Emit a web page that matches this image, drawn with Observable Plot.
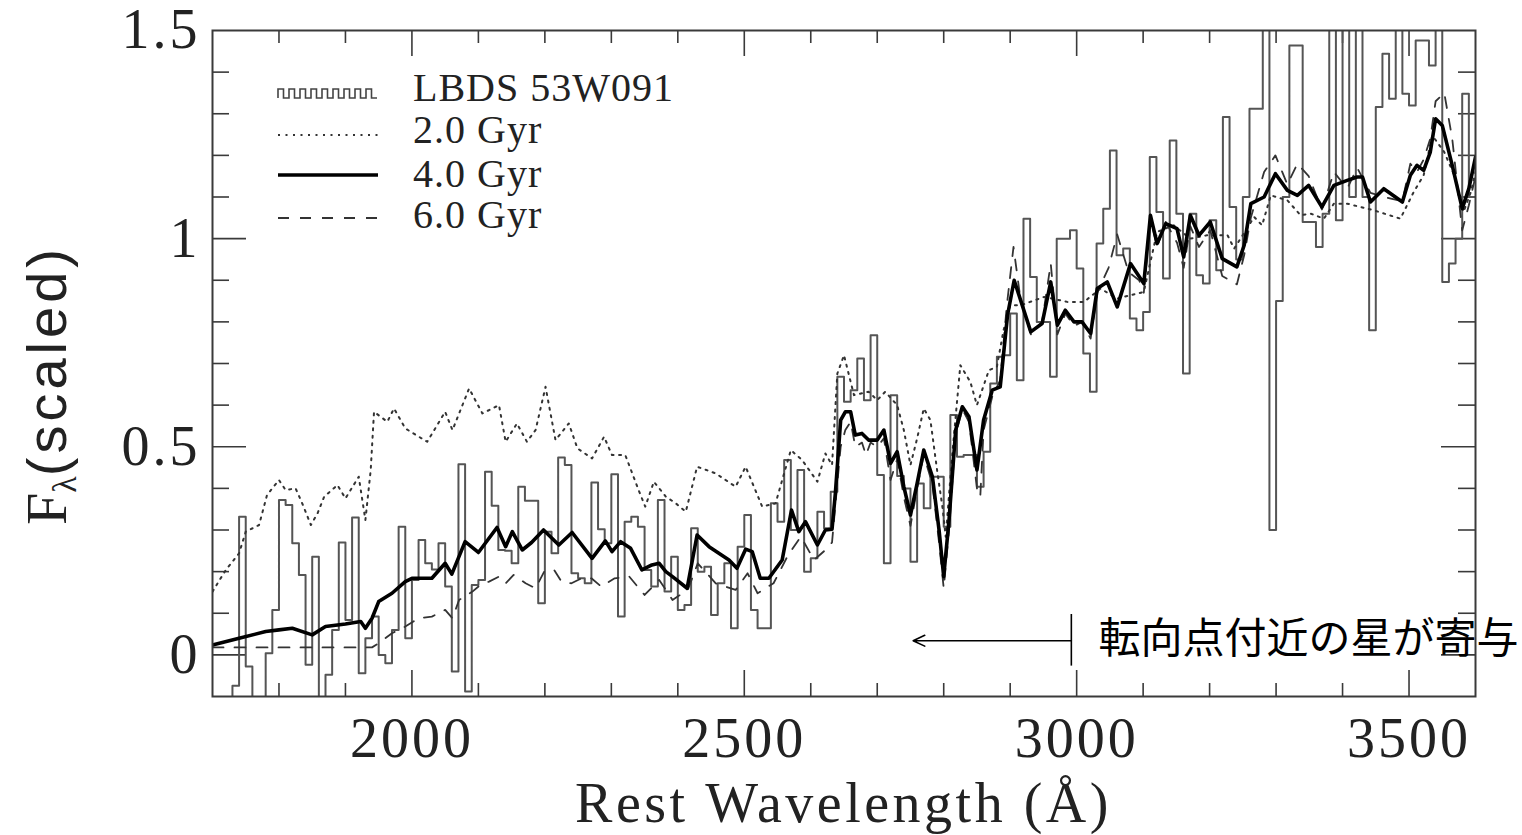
<!DOCTYPE html>
<html>
<head>
<meta charset="utf-8">
<script src="https://cdn.jsdelivr.net/npm/d3@7"></script>
<script src="https://cdn.jsdelivr.net/npm/@observablehq/plot@0.6"></script>
<style>
  html, body { margin: 0; padding: 0; background: #fff; }
  #chart { width: 1522px; height: 835px; }
  g[aria-label="x-axis tick label"] text { letter-spacing: 3px; }
  g[aria-label="y-axis tick label"] text { letter-spacing: 3px; }
</style>
</head>
<body>
<div id="chart"></div>
<script>
// ---------- data ----------
// observed spectrum LBDS 53W091: 10 Å bins starting at 1700 Å
const obsBinStart = 1700;
const obsBinWidth = 10;
const obsFlux = [
  -0.15, -0.15, -0.15, -0.074, 0.332, -0.028, -0.15, -0.15, 0.004, 0.108,
  0.372, 0.36, 0.268, 0.192, -0.024, 0.236, -0.15, -0.048, 0.06, 0.27,
  0.084, 0.33, -0.044, 0.04, 0.092, 0.0, -0.02, 0.06, 0.308, 0.04,
  0.18, 0.276, 0.22, 0.205, 0.268, 0.164, -0.04, 0.458, -0.088, 0.168,
  0.18, 0.44, 0.358, 0.252, 0.25, 0.22, 0.404, 0.37, 0.37, 0.124,
  0.296, 0.244, 0.474, 0.456, 0.196, 0.184, 0.172, 0.414, 0.302, 0.268,
  0.434, 0.092, 0.32, 0.332, 0.308, 0.204, 0.164, 0.372, 0.152, 0.236,
  0.108, 0.12, 0.304, 0.2, 0.212, 0.096, 0.172, 0.22, 0.064, 0.26,
  0.336, 0.108, 0.064, 0.064, 0.364, 0.32, 0.468, 0.3, 0.444, 0.2,
  0.232, 0.344, 0.304, 0.392, 0.668, 0.608, 0.636, 0.712, 0.612, 0.768,
  0.432, 0.22, 0.624, 0.43, 0.4, 0.224, 0.412, 0.352, 0.428, 0.428,
  0.308, 0.576, 0.476, 0.48, 0.48, 0.404, 0.488, 0.652, 0.716, 0.72,
  0.82, 0.66, 1.048, 0.908, 0.8, 0.8, 0.668, 1.0, 1.0, 1.02,
  0.928, 0.724, 0.632, 0.988, 1.072, 1.212, 0.96, 0.976, 0.808, 0.78,
  0.824, 1.196, 1.064, 0.904, 1.236, 1.06, 0.676, 1.06, 0.912, 0.892,
  1.044, 0.924, 1.292, 1.076, 0.95, 1.1, 1.312, 1.312, 1.6, 0.3,
  0.85, 1.1, 1.464, 1.464, 1.04, 1.04, 0.98, 1.06, 1.6, 1.044,
  1.6, 1.1, 1.6, 1.1, 0.78, 1.316, 1.444, 1.336, 1.6, 1.348,
  1.32, 1.476, 1.476, 1.416, 1.6, 0.896, 0.94, 1.0, 1.348, 1.1
];

// 2.0 Gyr model
const gyr2Wave = [1700,1720,1740,1750,1770,1782,1800,1810,1825,1835,1848,1858,1868,1888,1900,1920,1930,1938,1943,1963,1973,1990,2023,2050,2061,2086,2106,2131,2141,2158,2173,2186,2201,2216,2236,2249,2271,2289,2301,2321,2341,2351,2364,2382,2397,2412,2429,2457,2487,2502,2527,2547,2570,2587,2610,2622,2632,2640,2650,2665,2687,2700,2712,2730,2740,2750,2760,2770,2780,2790,2798,2803,2813,2825,2840,2850,2868,2880,2890,2900,2916,2951,2986,3011,3036,3061,3101,3121,3146,3171,3196,3227,3237,3267,3279,3292,3317,3337,3352,3372,3387,3407,3447,3487,3507,3522,3535,3553,3568,3582,3593,3600];
const gyr2Flux = [0.152,0.204,0.244,0.296,0.312,0.384,0.42,0.396,0.4,0.364,0.312,0.34,0.38,0.408,0.376,0.428,0.324,0.444,0.584,0.56,0.592,0.544,0.512,0.584,0.54,0.64,0.58,0.6,0.512,0.556,0.512,0.54,0.644,0.516,0.556,0.496,0.472,0.524,0.48,0.48,0.396,0.356,0.416,0.38,0.364,0.344,0.452,0.436,0.404,0.452,0.356,0.364,0.492,0.468,0.416,0.484,0.456,0.676,0.72,0.624,0.632,0.612,0.632,0.6,0.54,0.456,0.52,0.592,0.564,0.444,0.356,0.284,0.484,0.696,0.656,0.6,0.684,0.692,0.78,0.84,0.84,0.86,0.848,0.848,0.88,0.856,0.872,1.016,1.032,1.0,1.008,1.008,0.976,1.052,1.032,1.104,1.092,1.056,1.06,1.048,1.084,1.084,1.068,1.048,1.112,1.152,1.248,1.208,1.152,1.064,1.112,1.16];

// 4.0 Gyr model
const gyr4Wave = [1700,1740,1780,1800,1820,1850,1870,1900,1923,1930,1940,1950,1970,1990,2000,2030,2050,2060,2080,2100,2128,2141,2151,2166,2180,2198,2221,2241,2271,2291,2301,2314,2329,2346,2361,2372,2382,2392,2414,2429,2447,2477,2489,2502,2512,2524,2537,2557,2571,2582,2592,2610,2622,2632,2637,2645,2652,2660,2667,2677,2687,2700,2710,2720,2730,2740,2750,2760,2770,2783,2793,2800,2808,2818,2828,2838,2850,2860,2873,2885,2896,2906,2931,2948,2961,2971,2983,2996,3008,3021,3031,3046,3061,3081,3101,3111,3121,3134,3151,3161,3171,3184,3201,3219,3241,3252,3262,3282,3299,3317,3332,3349,3369,3387,3407,3422,3430,3442,3462,3490,3502,3512,3522,3532,3540,3550,3565,3580,3590,3600];
const gyr4Flux = [0.024,0.04,0.056,0.06,0.064,0.048,0.068,0.074,0.08,0.064,0.088,0.128,0.148,0.176,0.184,0.184,0.22,0.194,0.272,0.246,0.306,0.26,0.296,0.252,0.27,0.3,0.264,0.294,0.232,0.274,0.248,0.272,0.256,0.204,0.216,0.22,0.2,0.188,0.16,0.288,0.26,0.228,0.208,0.254,0.248,0.184,0.184,0.228,0.348,0.296,0.32,0.264,0.3,0.302,0.388,0.564,0.584,0.584,0.528,0.532,0.516,0.516,0.54,0.46,0.488,0.404,0.336,0.412,0.492,0.428,0.3,0.188,0.324,0.54,0.596,0.572,0.444,0.564,0.636,0.644,0.816,0.9,0.776,0.796,0.896,0.792,0.828,0.8,0.8,0.772,0.88,0.896,0.836,0.94,0.892,1.056,0.988,1.036,1.024,0.956,1.056,1.008,1.04,0.952,0.932,0.984,1.084,1.1,1.156,1.116,1.104,1.128,1.076,1.128,1.14,1.148,1.148,1.088,1.12,1.088,1.152,1.176,1.164,1.208,1.288,1.272,1.176,1.072,1.12,1.196];

// 6.0 Gyr model
const gyr6Wave = [1700,1940,1950,1970,1990,2010,2030,2050,2061,2071,2091,2103,2116,2131,2141,2153,2171,2186,2199,2214,2225,2240,2255,2270,2285,2305,2327,2350,2372,2392,2415,2430,2457,2487,2505,2520,2544,2566,2585,2605,2622,2632,2637,2645,2652,2660,2667,2677,2683,2690,2700,2710,2720,2730,2740,2750,2760,2770,2783,2793,2800,2808,2818,2828,2838,2850,2855,2860,2873,2885,2895,2905,2915,2931,2948,2961,2971,2983,2996,3008,3021,3031,3048,3061,3078,3094,3101,3111,3121,3134,3151,3161,3171,3184,3201,3219,3241,3252,3262,3282,3299,3317,3332,3349,3369,3387,3407,3422,3442,3462,3490,3502,3512,3522,3532,3540,3553,3565,3580,3590,3600];
const gyr6Flux = [0.018,0.018,0.028,0.052,0.068,0.088,0.092,0.108,0.088,0.132,0.152,0.168,0.176,0.188,0.172,0.192,0.172,0.16,0.2,0.204,0.176,0.172,0.184,0.184,0.164,0.184,0.188,0.144,0.18,0.132,0.156,0.22,0.172,0.156,0.196,0.148,0.172,0.24,0.284,0.228,0.252,0.27,0.36,0.5,0.54,0.56,0.5,0.51,0.48,0.51,0.5,0.52,0.42,0.47,0.38,0.31,0.4,0.48,0.41,0.27,0.16,0.3,0.53,0.59,0.56,0.4,0.38,0.54,0.62,0.66,0.84,0.98,0.86,0.77,0.8,0.94,0.77,0.82,0.79,0.8,0.76,0.87,0.93,1.01,0.92,0.9,0.87,1.05,0.98,1.04,0.99,0.93,1.03,0.98,1.02,0.91,0.89,0.96,1.05,1.16,1.2,1.13,1.18,1.15,1.07,1.16,1.12,1.17,1.11,1.1,1.09,1.18,1.16,1.19,1.24,1.33,1.35,1.24,1.02,1.08,1.15];

// axes
const xDomain = [1700, 3600];
const yDomain = [-0.1, 1.5];
const xMajorTicks = [2000, 2500, 3000, 3500];
const xMinorTicks = [1800, 1900, 2100, 2200, 2300, 2400, 2600, 2700, 2800, 2900, 3100, 3200, 3300, 3400];
const yMajorTicks = [0, 0.5, 1];
const yMinorTicks = [0.1, 0.2, 0.3, 0.4, 0.6, 0.7, 0.8, 0.9, 1.1, 1.2, 1.3, 1.4];
const yTickLabels = [0, 0.5, 1, 1.5];

// legend & annotation
const seriesNames = ["LBDS 53W091", "2.0 Gyr", "4.0 Gyr", "6.0 Gyr"];
const xTitle = "Rest Wavelength (Å)";
const annotText = "転向点付近の星が寄与";
const annotBarX = [2992];
const annotBarY = [-0.027, 0.097];
const annotArrowX = [2992, 2754];
const annotArrowY = [0.034];
const annotTextX = [3033];
const annotTextY = [0.037];

// ---------- build tables ----------
const obsData = obsFlux.map((v, i) => ({x: obsBinStart + i * obsBinWidth, y: v}));
obsData.push({x: obsBinStart + obsFlux.length * obsBinWidth, y: obsFlux[obsFlux.length - 1]});
const g2 = gyr2Wave.map((x, i) => ({x, y: gyr2Flux[i]}));
const g4 = gyr4Wave.map((x, i) => ({x, y: gyr4Flux[i]}));
const g6 = gyr6Wave.map((x, i) => ({x, y: gyr6Flux[i]}));

// ---------- layout ----------
const W = 1522, H = 835;
const mL = 212, mR = 47, mT = 30, mB = 139;
const FW = W - mL - mR, FH = H - mT - mB;
const frameColor = "#3a3a3a";
const serif = "'Liberation Serif', 'Times New Roman', serif";

const plot = Plot.plot({
  width: W, height: H,
  marginLeft: mL, marginRight: mR, marginTop: mT, marginBottom: mB,
  x: {domain: xDomain},
  y: {domain: yDomain},
  style: {fontFamily: serif, background: "#fff", color: "#222", overflow: "visible"},
  marks: [
    // inward ticks on all four sides
    Plot.tickX(xMinorTicks, {x: d => d, insetTop: FH - 13, stroke: frameColor, strokeWidth: 1.6}),
    Plot.tickX(xMajorTicks, {x: d => d, insetTop: FH - 26, stroke: frameColor, strokeWidth: 1.6}),
    Plot.tickX(xMinorTicks, {x: d => d, insetBottom: FH - 13, stroke: frameColor, strokeWidth: 1.6}),
    Plot.tickX(xMajorTicks, {x: d => d, insetBottom: FH - 26, stroke: frameColor, strokeWidth: 1.6}),
    Plot.tickY(yMinorTicks, {y: d => d, insetRight: FW - 17, stroke: frameColor, strokeWidth: 1.6}),
    Plot.tickY(yMajorTicks, {y: d => d, insetRight: FW - 34, stroke: frameColor, strokeWidth: 1.6}),
    Plot.tickY(yMinorTicks, {y: d => d, insetLeft: FW - 17, stroke: frameColor, strokeWidth: 1.6}),
    Plot.tickY(yMajorTicks, {y: d => d, insetLeft: FW - 34, stroke: frameColor, strokeWidth: 1.6}),
    // spectra
    Plot.line(obsData, {x: "x", y: "y", curve: "step-after", stroke: "#555", strokeWidth: 2, clip: true}),
    Plot.line(g2, {x: "x", y: "y", stroke: "#333", strokeWidth: 2, strokeDasharray: "2 5.5", clip: true}),
    Plot.line(g6, {x: "x", y: "y", stroke: "#333", strokeWidth: 1.8, strokeDasharray: "11 11", clip: true}),
    Plot.line(g4, {x: "x", y: "y", stroke: "#000", strokeWidth: 3.6, strokeLinejoin: "round", clip: true}),
    Plot.frame({stroke: frameColor, strokeWidth: 2}),
    // axes labels
    Plot.axisX({ticks: xMajorTicks, tickSize: 0, tickPadding: 21, fontSize: 56, label: null, fontFamily: serif, tickFormat: d => String(d)}),
    Plot.axisY({ticks: yTickLabels, tickSize: 0, tickPadding: 12, fontSize: 56, label: null, fontFamily: serif, tickFormat: d => String(d)}),
    // annotation
    Plot.ruleX([annotBarX[0]], {x: d => d, y1: annotBarY[0], y2: annotBarY[1], stroke: "#000", strokeWidth: 1.6}),
    Plot.arrow([0], {x1: annotArrowX[0], x2: annotArrowX[1], y1: annotArrowY[0], y2: annotArrowY[0], stroke: "#000", strokeWidth: 1.6, headLength: 12, headAngle: 50}),
    Plot.text([annotText], {x: annotTextX[0], y: annotTextY[0], text: d => d, textAnchor: "start", fontSize: 42, fontFamily: "'Noto Sans CJK JP', sans-serif", fill: "#000"})
  ]
});

// ---------- extra text & in-frame legend ----------
const svg = d3.select(plot);

// x axis title
svg.append("text")
  .attr("x", mL + FW / 2).attr("y", 822)
  .attr("text-anchor", "middle")
  .attr("font-family", serif).attr("font-size", 56)
  .attr("letter-spacing", "3.5px")
  .attr("fill", "#222")
  .text(xTitle);

// y axis title: F_lambda(scaled)
const yt = svg.append("text")
  .attr("transform", `translate(66,385) rotate(-90)`)
  .attr("text-anchor", "middle")
  .attr("fill", "#222");
yt.append("tspan").attr("font-family", serif).attr("font-size", 58).text("F");
yt.append("tspan").attr("font-family", serif).attr("font-size", 34).attr("dy", 10).text("λ");
yt.append("tspan").attr("font-family", "'Liberation Sans', Arial, sans-serif").attr("font-size", 56)
  .attr("letter-spacing", "4px").attr("dy", -10).text("(scaled)");

// legend
const lg = svg.append("g").attr("text-anchor", "start");
const lx0 = 278, lx1 = 378, tx = 413;
const rows = [93, 135, 175, 218];
const baselines = [101, 143, 187, 228];
// square-wave sample for the histogram
let p = `M${lx0},${rows[0] + 5}`;
const per = 11;
for (let x = lx0; x + per <= lx1 + 0.1; x += per) {
  p += `V${rows[0] - 4}H${x + per / 2}V${rows[0] + 5}H${x + per}`;
}
lg.append("path").attr("d", p).attr("fill", "none").attr("stroke", "#444").attr("stroke-width", 1.6);
lg.append("line").attr("x1", lx0).attr("x2", lx1).attr("y1", rows[1]).attr("y2", rows[1])
  .attr("stroke", "#333").attr("stroke-width", 2).attr("stroke-dasharray", "2 5.5");
lg.append("line").attr("x1", lx0).attr("x2", lx1).attr("y1", rows[2]).attr("y2", rows[2])
  .attr("stroke", "#000").attr("stroke-width", 3.6);
lg.append("line").attr("x1", lx0).attr("x2", lx1).attr("y1", rows[3]).attr("y2", rows[3])
  .attr("stroke", "#333").attr("stroke-width", 1.8).attr("stroke-dasharray", "11 11");
seriesNames.forEach((name, i) => {
  lg.append("text").attr("x", tx).attr("y", baselines[i])
    .attr("text-anchor", "start")
    .attr("font-family", serif).attr("font-size", 40).attr("fill", "#222")
    .attr("letter-spacing", "1px")
    .text(name);
});

document.getElementById("chart").appendChild(plot);
</script>
</body>
</html>
